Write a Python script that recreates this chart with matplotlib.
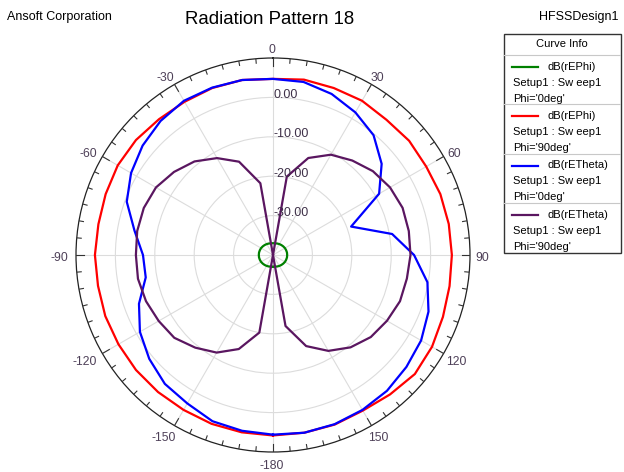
import numpy as np
import matplotlib.pyplot as plt
from matplotlib.patches import Rectangle
from matplotlib.transforms import offset_copy

plt.rcParams['font.family'] = ['Liberation Sans', 'DejaVu Sans']

# pattern cut angles, -180..180 deg every 10 deg
theta_deg = np.arange(-180, 181, 10)

# dB(rEPhi), Phi='0deg'
ephi_phi0 = [-37.0, -37.0, -36.9, -36.8, -36.7, -36.6, -36.5, -36.45, -36.4, -36.4,
             -36.4, -36.45, -36.5, -36.6, -36.7, -36.8, -36.9, -37.0, -37.0,
             -37.0, -36.9, -36.8, -36.7, -36.6, -36.5, -36.45, -36.4, -36.4,
             -36.4, -36.45, -36.5, -36.6, -36.7, -36.8, -36.9, -37.0, -37.0]
# dB(rEPhi), Phi='90deg'
ephi_phi90 = [5.8, 5.7, 5.6, 5.4, 5.4, 5.4, 5.3, 5.3, 5.1, 5.2,
              5.0, 5.2, 5.5, 5.4, 5.0, 4.9, 5.1, 5.1, 4.7,
              5.2, 5.1, 5.2, 4.8, 5.1, 4.9, 5.2, 5.3, 5.4,
              5.5, 5.9, 6.6, 7.0, 6.2, 5.6, 5.8, 5.8, 5.8]
# dB(rETheta), Phi='0deg'
etheta_phi0 = [5.6, 5.3, 4.9, 3.5, 2.7, 1.0, -1.0, -3.8, -7.2, -7.0,
               -4.3, -0.5, 1.6, 3.2, 4.4, 5.2, 5.2, 5.1, 4.7,
               4.6, 3.5, 1.8, -0.3, -4.0, -8.9, -18.9, -9.3, -4.2,
               -0.2, 2.0, 3.4, 4.2, 5.0, 5.4, 5.7, 5.8, 5.6]
# dB(rETheta), Phi='90deg'
etheta_phi90 = [-40.0, -20.0, -14.6, -11.4, -9.3, -7.3, -6.5, -5.7, -5.2, -5.2,
                -5.0, -5.1, -5.7, -7.2, -9.0, -11.6, -14.8, -21.5, -40.0,
                -19.8, -13.8, -10.6, -8.7, -6.9, -5.7, -5.0, -5.0, -5.1,
                -5.5, -5.7, -6.6, -7.6, -9.4, -11.9, -15.4, -21.7, -40.0]

curves = [
    (ephi_phi0, '#008000', 'dB(rEPhi)', "Phi='0deg'"),
    (ephi_phi90, '#ff0000', 'dB(rEPhi)', "Phi='90deg'"),
    (etheta_phi0, '#0000ff', 'dB(rETheta)', "Phi='0deg'"),
    (etheta_phi90, '#5a1660', 'dB(rETheta)', "Phi='90deg'"),
]

r_min, r_max = -40, 10
r_ticks = [-30, -20, -10, 0]
theta_label_deg = list(range(0, 360, 30))
theta_labels = ['0', '30', '60', '90', '120', '150',
                '-180', '-150', '-120', '-90', '-60', '-30']
label_color = '#4e4058'
rlabel_color = '#3e3048'

fig = plt.figure(figsize=(6.24, 4.72), dpi=100)
ax = fig.add_axes([273 / 624 - 197 / 624, (472 - 255 - 197) / 472, 394 / 624, 394 / 472],
                  projection='polar')
ax.set_theta_zero_location('N')
ax.set_theta_direction(-1)
ax.set_ylim(r_min, r_max)

for vals, color, name, phi in curves:
    ax.plot(np.deg2rad(theta_deg), vals, color=color, lw=1.6, zorder=3)

ax.set_xticks(np.deg2rad(theta_label_deg))
ax.set_xticklabels([])
ax.tick_params(axis='x', length=0)

# tick marks on the rim: long every 30 deg, short every 5 deg
px_per_db = 197 / (r_max - r_min)
for a in range(0, 360, 5):
    tick_len = 8 if a % 30 == 0 else 4.5
    ax.plot([np.deg2rad(a)] * 2, [r_max - tick_len / px_per_db, r_max],
            color='#333333', lw=0.8, zorder=4)

# angle labels just outside the rim
renderer = fig.canvas.get_renderer()
gap = 6.4
for a, lbl in zip(theta_label_deg, theta_labels):
    t = ax.annotate(lbl, xy=(np.deg2rad(a), r_max), xytext=(0, 0),
                    textcoords='offset pixels', ha='center', va='center',
                    fontsize=8.7, color=label_color, annotation_clip=False)
    bb = t.get_window_extent(renderer)
    s, c = np.sin(np.deg2rad(a)), np.cos(np.deg2rad(a))
    dx = (gap + bb.width / 2) * s - 1.2
    dy = (gap + bb.height * 0.4) * c - 3
    t.set_position((dx, dy))

ax.set_yticks(r_ticks)
ax.set_yticklabels([])
ax.grid(True, color='#dcdcdc', lw=0.8)
ax.spines['polar'].set_color('#222222')
ax.spines['polar'].set_linewidth(0.9)

lbl_tr = offset_copy(ax.transData, fig=fig, x=0.1, y=-0.3, units='points')
for r in r_ticks:
    ax.text(0, r, f'{r:.2f}', transform=lbl_tr, ha='left', va='baseline',
            fontsize=9, color=rlabel_color, zorder=5)

fig.text(270 / 624, 1 - 19 / 472, 'Radiation Pattern 18', ha='center', va='center',
         fontsize=13.4)
fig.text(7 / 624, 1 - 17 / 472, 'Ansoft Corporation', ha='left', va='center', fontsize=9)
fig.text(619 / 624, 1 - 17 / 472, 'HFSSDesign1', ha='right', va='center', fontsize=9)

# curve info box
lg = fig.add_axes([503 / 624, (472 - 253) / 472, 118 / 624, 220 / 472])
lg.set_xlim(0, 118)
lg.set_ylim(220, 0)
lg.axis('off')
lg.add_patch(Rectangle((0.5, 0.5), 117, 219, fill=False, ec='#333333', lw=1.0,
                       clip_on=False))
lg.text(59, 11, 'Curve Info', ha='center', va='center', fontsize=8)
row_h = (219 - 22) / 4
for i, (vals, color, name, phi) in enumerate(curves):
    top = 22 + i * row_h
    lg.plot([0.5, 117.5], [top, top], color='#c8c8c8', lw=0.8)
    lg.plot([9, 35], [top + 12, top + 12], color=color, lw=1.6)
    lg.text(44, top + 12, name, ha='left', va='center', fontsize=8)
    lg.text(10, top + 28, 'Setup1 : Sw eep1', ha='left', va='center', fontsize=8)
    lg.text(10, top + 44, phi, ha='left', va='center', fontsize=8)

fig.savefig('out.png', dpi=100)
